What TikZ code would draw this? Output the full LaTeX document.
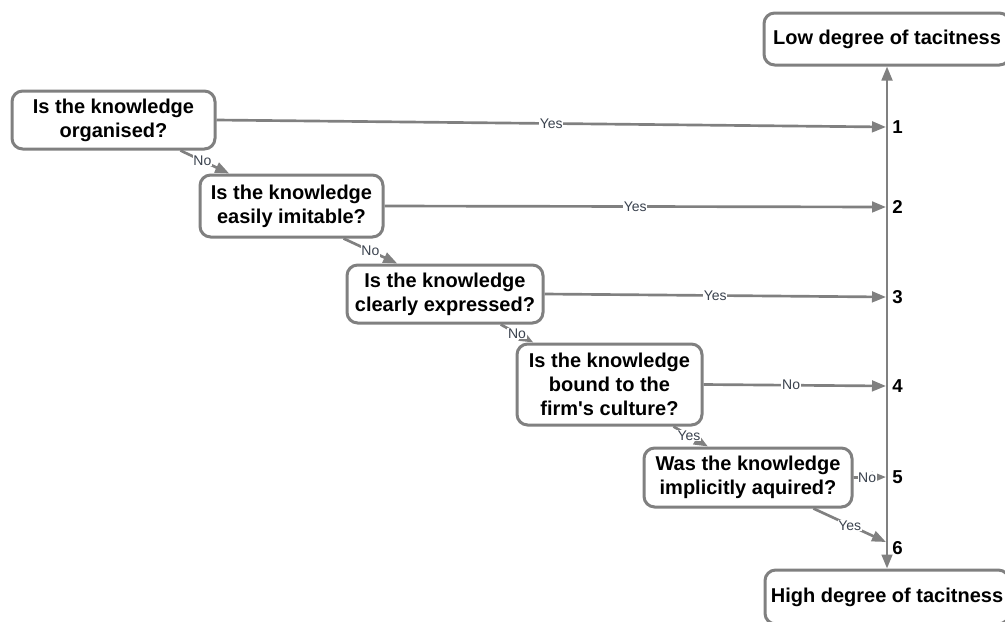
\documentclass[tikz,border=0pt]{standalone}
\usepackage{fontspec}
\setmainfont{Liberation Sans}
\usetikzlibrary{arrows.meta,calc}
\definecolor{edge}{RGB}{128,128,128}
\definecolor{lbl}{RGB}{58,66,78}
\begin{document}
\begin{tikzpicture}[x=0.75pt,y=-0.75pt,
  question/.style={draw=edge, line width=2.25pt, rounded corners=8pt, fill=white,
    align=center, font=\fontsize{15}{18}\selectfont\bfseries, inner sep=0pt},
  flow/.style={draw=edge, line width=2pt, -{Triangle[length=10.5pt,width=8pt]}},
  both/.style={draw=edge, line width=2pt,
    {Triangle[length=10.5pt,width=8pt]}-{Triangle[length=10.5pt,width=8pt]}},
  tag/.style={fill=white, inner sep=0.5pt, font=\fontsize{10.5}{12}\selectfont, text=lbl},
  level/.style={anchor=west, font=\fontsize{14}{16}\selectfont\bfseries, inner sep=0pt}]
\useasboundingbox (0,0) rectangle (1005,621);
\clip (0,0) rectangle (1005,621);

% question boxes
\node[question, minimum width=152.25pt, minimum height=43.5pt] (B1) at (113.5,120)
  {Is the knowledge\\organised?};
\node[question, minimum width=137.25pt, minimum height=46.5pt] (B2) at (291.5,206)
  {Is the knowledge\\easily imitable?};
\node[question, minimum width=147pt, minimum height=43.5pt] (B3) at (445,294)
  {Is the knowledge\\clearly expressed?};
\node[question, minimum width=138.75pt, minimum height=60.75pt] (B4) at (609.5,384.5)
  {Is the knowledge\\bound to the\\firm\textquotesingle s culture?};
\node[question, minimum width=156pt, minimum height=44.25pt] (B5) at (748,477.5)
  {Was the knowledge\\implicitly aquired?};

% scale ends
\node[question, minimum width=184.5pt, minimum height=39pt] (Low) at (887,39)
  {Low degree of tacitness};
\node[question, minimum width=183pt, minimum height=40.5pt] (High) at (887,597)
  {High degree of tacitness};

% points on the scale and their numbers
\foreach \i/\y in {1/127,2/207,3/297,4/386,5/477,6/542} {
  \coordinate (p\i) at (886,\y);
}
\node[level] (n1) at (892,127) {1};
\node[level] (n2) at (892,207) {2};
\node[level] (n3) at (892,297) {3};
\node[level] (n4) at (892,386) {4};
\node[level] (n5) at (892,477) {5};
\node[level] (n6) at (892,548) {6};

% the scale
\draw[both] (High.north) -- (Low.south);

% answers leading to the scale
\draw[flow] (B1.east) -- node[tag, pos=0.5] {Yes} (p1);
\draw[flow] (B2.east) -- node[tag, pos=0.5] {Yes} (p2);
\draw[flow] (B3.east) -- node[tag, pos=0.5] {Yes} (p3);
\draw[flow] (B4.east) -- node[tag, pos=0.48] {No} (p4);
\draw[flow] (B5.east) -- node[tag, pos=0.42] {No} (p5);
\draw[flow] ($(B5.south)!0.62!(B5.south east)$) -- node[tag, pos=0.5] {Yes} (p6);

% answers leading to the next question
\draw[flow] ($(B1.south)!0.65!(B1.south east)$) -- node[tag, pos=0.45] {No}
  ($(B2.north west)!0.33!(B2.north)$);
\draw[flow] ($(B2.south)!0.56!(B2.south east)$) -- node[tag, pos=0.5] {No}
  ($(B3.north west)!0.52!(B3.north)$);
\draw[flow] ($(B3.south)!0.56!(B3.south east)$) -- node[tag, pos=0.5] {No}
  ($(B4.north west)!0.19!(B4.north)$);
\draw[flow] ($(B4.south)!0.68!(B4.south east)$) -- node[tag, pos=0.45] {Yes}
  ($(B5.north west)!0.62!(B5.north)$);
\end{tikzpicture}
\end{document}
